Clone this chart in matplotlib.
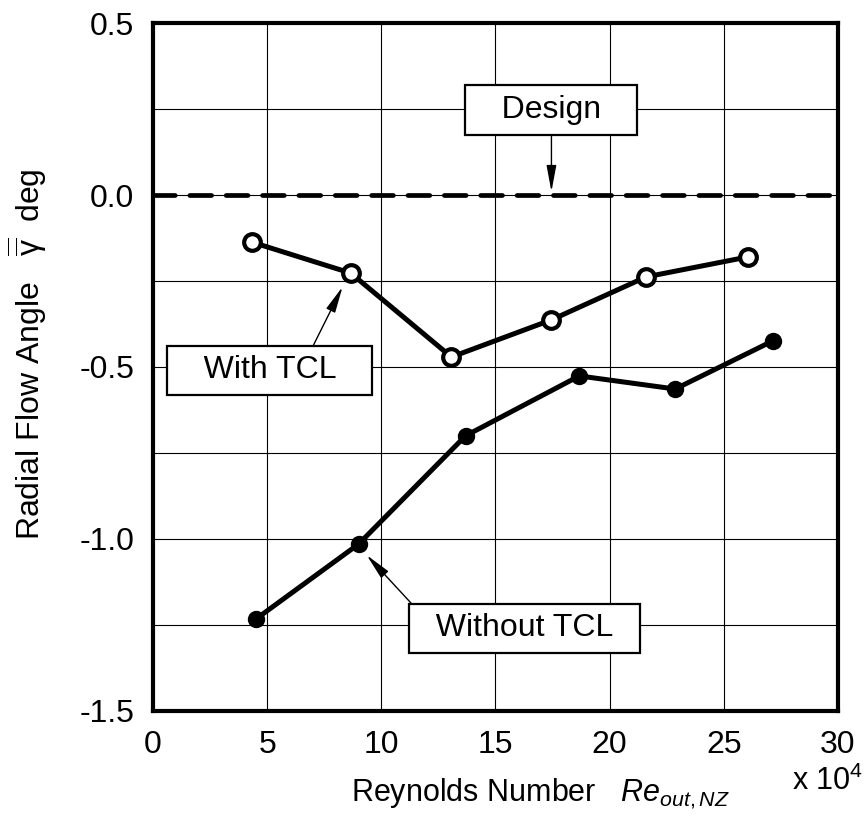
import numpy as np
import matplotlib.pyplot as plt
from matplotlib.ticker import FormatStrFormatter

plt.rcParams['font.family'] = ['Liberation Sans', 'DejaVu Sans']
plt.rcParams['mathtext.fontset'] = 'custom'
plt.rcParams['mathtext.rm'] = 'Liberation Sans'
plt.rcParams['mathtext.it'] = 'Liberation Sans:italic'

# Reynolds number (x 10^4) and mean radial flow angle (deg)
re_with_tcl = [4.33, 8.66, 13.07, 17.45, 21.6, 26.06]
angle_with_tcl = [-0.137, -0.227, -0.471, -0.363, -0.238, -0.180]
re_without_tcl = [4.5, 9.0, 13.69, 18.67, 22.87, 27.15]
angle_without_tcl = [-1.233, -1.015, -0.70, -0.526, -0.564, -0.424]
design_angle = 0.0

x_ticks = [0, 5, 10, 15, 20, 25, 30]
y_ticks = [-1.5, -1.0, -0.5, 0.0, 0.5]
y_grid = [-1.25, -0.75, -0.25, 0.25]

fig = plt.figure(figsize=(8.68, 8.19), dpi=100)
ax = fig.add_axes([0.1763, 0.1319, 0.7891, 0.84])

ax.set_xlim(0, 30)
ax.set_ylim(-1.5, 0.5)
ax.set_xticks(x_ticks)
ax.set_yticks(y_ticks)
ax.set_yticks(y_grid, minor=True)
ax.yaxis.set_major_formatter(FormatStrFormatter('%.1f'))
ax.grid(which='both', color='black', lw=0.8)
ax.set_axisbelow(True)
ax.tick_params(which='both', length=0, labelsize=23, pad=13.5)
for s in ax.spines.values():
    s.set_linewidth(3)

# design line
ax.axhline(design_angle, color='black', lw=3.4, ls=(0, (4.6, 3.1)),
           dash_capstyle='round', zorder=3)

ax.plot(re_with_tcl, angle_with_tcl, color='black', lw=3.6, marker='o',
        ms=12, mfc='white', mec='black', mew=3, zorder=4)
ax.plot(re_without_tcl, angle_without_tcl, color='black', lw=3.6, marker='o',
        ms=11.5, mfc='black', mec='black', mew=1, zorder=4)

box = dict(boxstyle='square,pad=0.3', fc='white', ec='black', lw=1.6)


def arrow(relpos=(0.5, 0.5)):
    return dict(arrowstyle='-|>,head_length=0.8,head_width=0.15',
                mutation_scale=20, color='black', lw=1,
                shrinkA=0, shrinkB=0, relpos=relpos)


ax.annotate('   Design   ', xy=(17.45, design_angle + 0.01), xytext=(17.45, 0.247),
            ha='center', va='center', fontsize=23, bbox=box,
            arrowprops=arrow((0.5, 0)), zorder=6)
ax.annotate('   With TCL   ', xy=(8.3, -0.267), xytext=(5.1, -0.51),
            ha='center', va='center', fontsize=23, bbox=box,
            arrowprops=arrow((0.71, 1)), zorder=6)
ax.annotate('  Without TCL  ', xy=(9.36, -1.047), xytext=(16.27, -1.26),
            ha='center', va='center', fontsize=23, bbox=box,
            arrowprops=arrow((0.01, 1)), zorder=6)

fig.text(0.0576, 0.567,
         r'Radial Flow Angle   $\overline{\overline{\mathrm{\gamma}}}$  deg',
         rotation=90, ha='right', va='center', fontsize=23)
fig.text(0.622, 0.022, r'Reynolds Number   $Re_{out,NZ}$',
         ha='center', va='baseline', fontsize=22)
fig.text(0.954, 0.035, r'x 10$^4$', ha='center', va='baseline', fontsize=22)

fig.savefig('out.png', dpi=100)
